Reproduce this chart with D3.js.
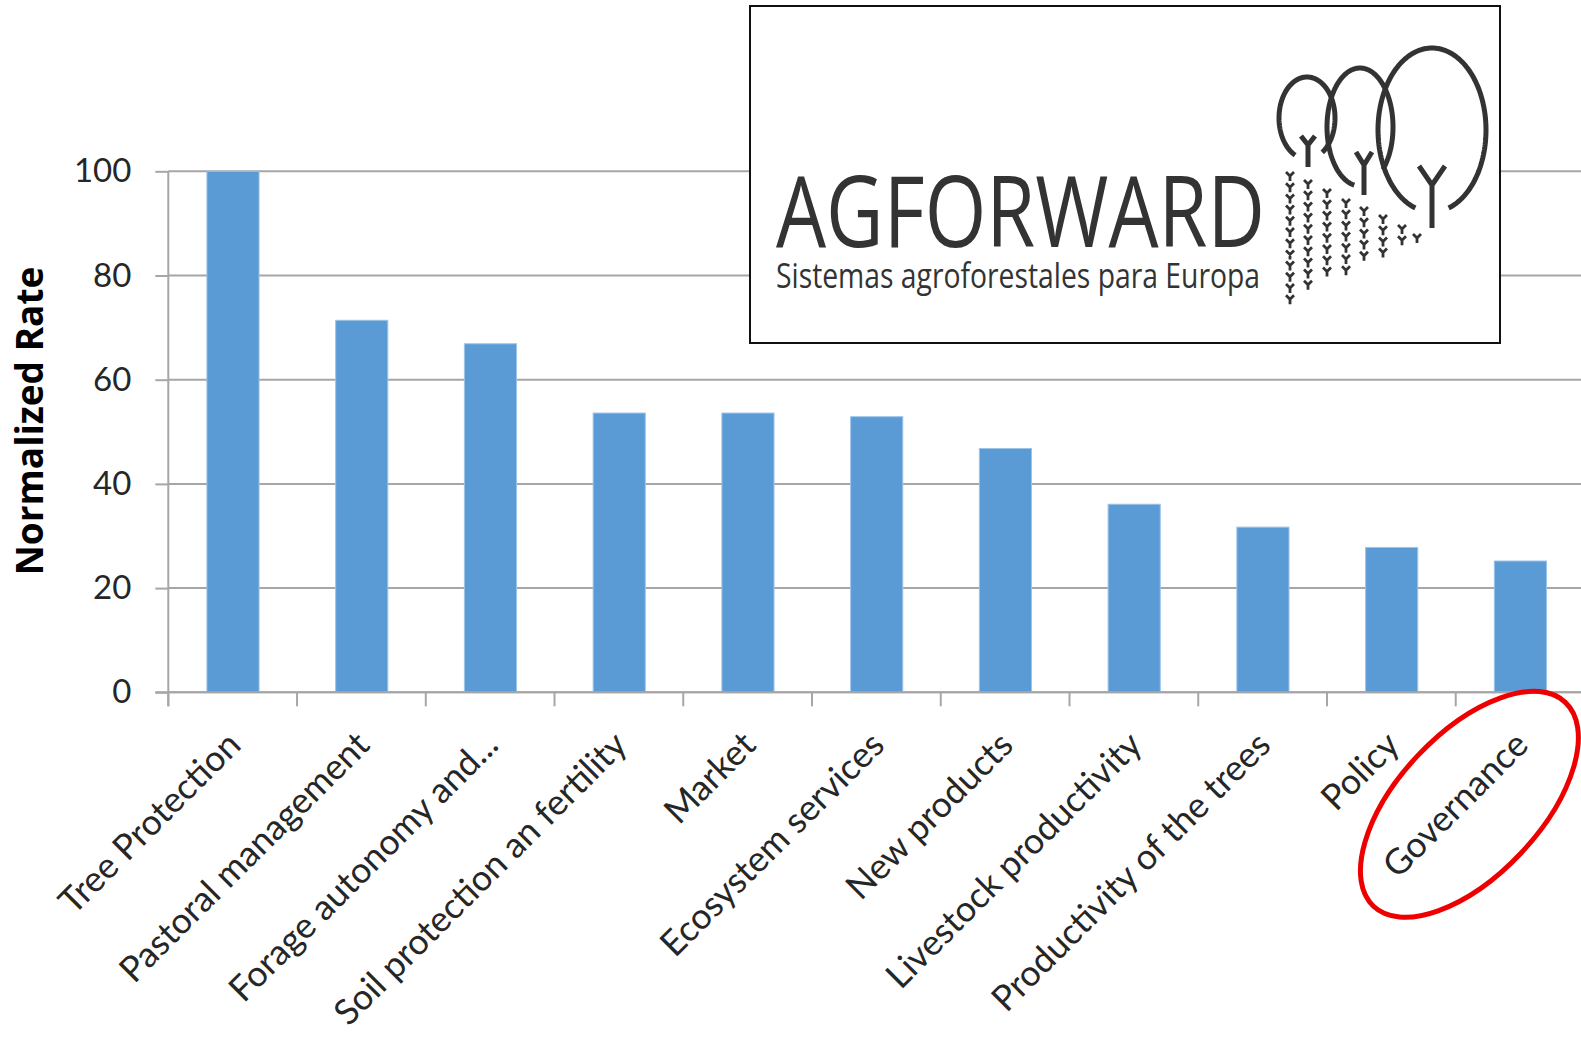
<!DOCTYPE html>
<html>
<head>
<meta charset="utf-8">
<script src="https://cdn.jsdelivr.net/npm/d3@7"></script>
<style>
    html, body { margin: 0; padding: 0; background: #fff; }
    svg { display: block; }
    text { font-family: Lato, "Open Sans", sans-serif; }
</style>
</head>
<body>
<svg id="chart" width="1581" height="1046"></svg>
<script>
const categories = [
    "Tree Protection",
    "Pastoral management",
    "Forage autonomy and...",
    "Soil protection an fertility",
    "Market",
    "Ecosystem services",
    "New products",
    "Livestock productivity",
    "Productivity of the trees",
    "Policy",
    "Governance"
];
const rates = [100, 71.4, 66.9, 53.6, 53.6, 52.9, 46.8, 36.1, 31.7, 27.8, 25.2];
const y_ticks = [0, 20, 40, 60, 80, 100];
const y_title = "Normalized Rate";
const logo_title = "AGFORWARD";
const logo_subtitle = "Sistemas agroforestales para Europa";
const highlighted = "Governance";

const svg = d3.select("#chart");
const width = 1581;

const plot_left = 168.3, plot_top = 171.3, plot_bottom = 692.3;
const step = 128.8;

const x = d3.scaleBand()
    .domain(categories)
    .range([plot_left, plot_left + step * categories.length])
    .paddingInner(0.595)
    .paddingOuter(0.3);

const y = d3.scaleLinear()
    .domain([0, 100])
    .range([plot_bottom, plot_top]);

const grid_color = "#a6a6a6";
const text_color = "#262626";

// gridlines
svg.append("g")
    .selectAll("line")
    .data(y_ticks)
    .join("line")
    .attr("x1", plot_left)
    .attr("x2", width)
    .attr("y1", d => y(d))
    .attr("y2", d => y(d))
    .attr("stroke", grid_color)
    .attr("stroke-width", 2);

// bars
svg.append("g")
    .selectAll("rect")
    .data(categories)
    .join("rect")
    .attr("x", d => x(d))
    .attr("width", x.bandwidth())
    .attr("y", (d, i) => y(rates[i]))
    .attr("height", (d, i) => y(0) - y(rates[i]))
    .attr("fill", "#5b9bd5")
    .attr("stroke", "#9cc3e8")
    .attr("stroke-width", 1);

// y axis
let y_axis = svg.append("g")
    .attr("transform", `translate(${plot_left},0)`)
    .call(d3.axisLeft(y).tickValues(y_ticks).tickSize(13).tickPadding(24));
y_axis.select(".domain").remove();
y_axis.selectAll(".tick line").attr("stroke", grid_color).attr("stroke-width", 2);
y_axis.selectAll(".tick text")
    .attr("font-size", 33)
    .attr("fill", text_color)
    .style("font-family", "Lato, sans-serif");
y_axis.append("line")
    .attr("y1", plot_top)
    .attr("y2", plot_bottom + 14)
    .attr("stroke", grid_color)
    .attr("stroke-width", 2);

// x axis: ticks at band boundaries
const boundaries = d3.range(categories.length + 1).map(i => x.range()[0] + i * x.step());
let x_axis = svg.append("g");
x_axis.append("line")
    .attr("x1", plot_left - 13)
    .attr("x2", width)
    .attr("y1", plot_bottom)
    .attr("y2", plot_bottom)
    .attr("stroke", grid_color)
    .attr("stroke-width", 2);
x_axis.selectAll("line.tick")
    .data(boundaries)
    .join("line")
    .classed("tick", true)
    .attr("x1", d => d)
    .attr("x2", d => d)
    .attr("y1", plot_bottom)
    .attr("y2", plot_bottom + 14)
    .attr("stroke", grid_color)
    .attr("stroke-width", 2);

x_axis.selectAll("text")
    .data(categories)
    .join("text")
    .attr("transform", d => `translate(${x(d) + x.bandwidth() / 2 + 1},${plot_bottom + 46}) rotate(-45)`)
    .attr("text-anchor", "end")
    .attr("dy", "0.35em")
    .attr("font-size", 35.5)
    .attr("fill", text_color)
    .text(d => d);

// y title
svg.append("text")
    .attr("transform", "translate(30,421) rotate(-90)")
    .attr("text-anchor", "middle")
    .attr("dy", "0.35em")
    .attr("font-size", 37)
    .attr("font-weight", "bold")
    .attr("fill", "#000")
    .style("font-family", "'Open Sans', sans-serif")
    .text(y_title);

// red highlight round the Governance label
const hx = x(highlighted) + x.bandwidth() / 2;
svg.append("ellipse")
    .attr("transform", `translate(${hx - 51},${plot_bottom + 112}) rotate(-46.75)`)
    .attr("rx", 140)
    .attr("ry", 71)
    .attr("fill", "none")
    .attr("stroke", "#ee0000")
    .attr("stroke-width", 5);

// logo inset
const logo = svg.append("g");
logo.append("rect")
    .attr("x", 750)
    .attr("y", 6)
    .attr("width", 750)
    .attr("height", 337)
    .attr("fill", "#fff")
    .attr("stroke", "#111")
    .attr("stroke-width", 2);

const ink = "#333";
logo.append("text")
    .attr("x", 776)
    .attr("y", 247)
    .attr("font-size", 98)
    .attr("font-weight", 400)
    .attr("fill", ink)
    .attr("textLength", 489)
    .attr("lengthAdjust", "spacingAndGlyphs")
    .style("font-family", "'Open Sans', sans-serif")
    .text(logo_title);

logo.append("text")
    .attr("x", 776)
    .attr("y", 288)
    .attr("font-size", 35)
    .attr("fill", ink)
    .attr("textLength", 484)
    .attr("lengthAdjust", "spacingAndGlyphs")
    .style("font-family", "'Open Sans', sans-serif")
    .text(logo_subtitle);

// tree crowns: elliptical arcs with a gap at the bottom
const crowns = [
    {cx: 1307, cy: 118, rx: 28, ry: 41, gap: [58, 115]},
    {cx: 1360, cy: 127, rx: 33, ry: 59, gap: [47, 100]},
    {cx: 1432, cy: 130, rx: 54, ry: 82, gap: [72, 108]}
];
const arc_line = d3.line();
crowns.forEach(c => {
    let pts = d3.range(c.gap[1], c.gap[0] + 360 + 1, 2).map(a => {
        let t = a * Math.PI / 180;
        return [c.cx + c.rx * Math.cos(t), c.cy + c.ry * Math.sin(t)];
    });
    logo.append("path")
        .attr("d", arc_line(pts))
        .attr("fill", "none")
        .attr("stroke", ink)
        .attr("stroke-width", 5);
});

// trunks
const trunks = [
    {x: 1308, top: 136, fork: 145, base: 167, w: 7},
    {x: 1364, top: 152, fork: 165, base: 195, w: 8},
    {x: 1432, top: 166, fork: 185, base: 228, w: 13}
];
trunks.forEach(t => {
    logo.append("path")
        .attr("d", `M${t.x - t.w},${t.top}L${t.x},${t.fork}L${t.x + t.w},${t.top}M${t.x},${t.fork}L${t.x},${t.base}`)
        .attr("fill", "none")
        .attr("stroke", ink)
        .attr("stroke-width", 5);
});

// seedlings
const seed_cols = [
    {x: 1290, y0: 176, n: 12},
    {x: 1308, y0: 184, n: 10},
    {x: 1327, y0: 193, n: 8},
    {x: 1346, y0: 203, n: 7},
    {x: 1364, y0: 211, n: 5},
    {x: 1383, y0: 219, n: 4},
    {x: 1402, y0: 229, n: 2},
    {x: 1417, y0: 238, n: 1}
];
seed_cols.forEach(c => {
    d3.range(c.n).forEach(r => {
        let sy = c.y0 + r * 11.2;
        logo.append("path")
            .attr("d", `M${c.x - 4},${sy - 4}L${c.x},${sy}L${c.x + 4},${sy - 4}M${c.x},${sy}L${c.x},${sy + 5}`)
            .attr("fill", "none")
            .attr("stroke", ink)
            .attr("stroke-width", 2.8);
    });
});
</script>
</body>
</html>
